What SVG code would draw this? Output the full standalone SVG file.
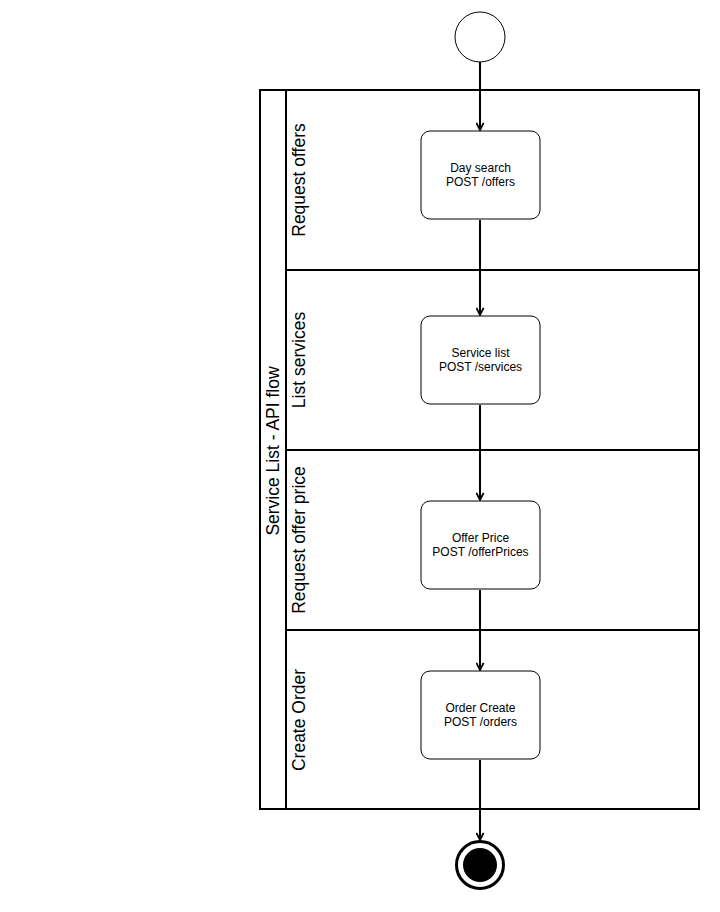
<svg xmlns="http://www.w3.org/2000/svg" width="720" height="912" viewBox="0 0 720 912">
<defs>
<style>
.pool{fill:#fff;stroke:#000;stroke-width:2}
.lane{fill:none;stroke:#000;stroke-width:2}
.node{fill:#fff;stroke:#000;stroke-width:1}
.t{font-family:"Liberation Sans",Arial,sans-serif;font-size:12px;fill:#000;text-anchor:middle}
.lt{font-family:"Liberation Sans",Arial,sans-serif;font-size:17.5px;fill:#000;text-anchor:middle}
.edge{fill:none;stroke:#000;stroke-width:2}
</style>
<marker id="arr" viewBox="0 0 10 10" refX="9" refY="5" markerWidth="9" markerHeight="9" markerUnits="userSpaceOnUse" orient="auto">
<path d="M1,1 L9,5 L1,9" fill="none" stroke="#000" stroke-width="2"/>
</marker>
</defs>
<rect width="720" height="912" fill="#fff"/>
<g id="pool">
<rect class="pool" x="260" y="90" width="439" height="719"/>
<line class="lane" x1="286" y1="90" x2="286" y2="809"/>
<text class="lt" transform="translate(279,451) rotate(-90)">Service List - API flow</text>
</g>
<g id="lane1">
<rect class="lane" x="286" y="90" width="413" height="180"/>
<text class="lt" transform="translate(305,180) rotate(-90)">Request offers</text>
</g>
<g id="lane2">
<rect class="lane" x="286" y="270" width="413" height="180"/>
<text class="lt" transform="translate(305,360) rotate(-90)">List services</text>
</g>
<g id="lane3">
<rect class="lane" x="286" y="450" width="413" height="180"/>
<text class="lt" transform="translate(305,540) rotate(-90)">Request offer price</text>
</g>
<g id="lane4">
<rect class="lane" x="286" y="630" width="413" height="179"/>
<text class="lt" transform="translate(305,720) rotate(-90)">Create Order</text>
</g>
<g id="edges">
<line class="edge" x1="480" y1="62" x2="480" y2="130" marker-end="url(#arr)"/>
<line class="edge" x1="480" y1="220" x2="480" y2="315" marker-end="url(#arr)"/>
<line class="edge" x1="480" y1="405" x2="480" y2="500" marker-end="url(#arr)"/>
<line class="edge" x1="480" y1="590" x2="480" y2="670" marker-end="url(#arr)"/>
<line class="edge" x1="480" y1="760" x2="480" y2="840" marker-end="url(#arr)"/>
</g>
<g id="start">
<circle cx="480" cy="37" r="25" fill="#fff" stroke="#000" stroke-width="1"/>
</g>
<g id="n1">
<rect class="node" x="421" y="131" width="119" height="88" rx="9"/>
<text class="t" x="480.5" y="172">Day search</text>
<text class="t" x="480.5" y="186">POST /offers</text>
</g>
<g id="n2">
<rect class="node" x="421" y="316" width="119" height="88" rx="9"/>
<text class="t" x="480.5" y="357">Service list</text>
<text class="t" x="480.5" y="371">POST /services</text>
</g>
<g id="n3">
<rect class="node" x="421" y="501" width="119" height="88" rx="9"/>
<text class="t" x="480.5" y="542">Offer Price</text>
<text class="t" x="480.5" y="556">POST /offerPrices</text>
</g>
<g id="n4">
<rect class="node" x="421" y="671" width="119" height="88" rx="9"/>
<text class="t" x="480.5" y="712">Order Create</text>
<text class="t" x="480.5" y="726">POST /orders</text>
</g>
<g id="end">
<circle cx="480" cy="865" r="23.5" fill="#fff" stroke="#000" stroke-width="3"/>
<circle cx="480" cy="865" r="17" fill="#000"/>
</g>
</svg>
